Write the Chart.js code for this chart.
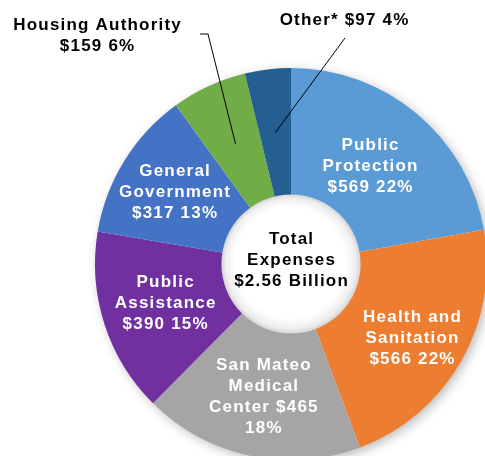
<!DOCTYPE html>
<html>
<head>
<meta charset="utf-8">
<script src="https://cdn.jsdelivr.net/npm/chart.js@4/dist/chart.umd.min.js"></script>
<style>
  html, body { margin: 0; padding: 0; background: #ffffff; overflow: hidden; width: 485px; height: 456px; }
  #wrap { position: absolute; left: 0; top: 0; width: 500px; height: 470px; }
</style>
</head>
<body>
<div id="wrap"><canvas id="c" width="500" height="470"></canvas></div>
<script>
const categories = ['Public Protection', 'Health and Sanitation', 'San Mateo Medical Center', 'Public Assistance', 'General Government', 'Housing Authority', 'Other*'];
const values = [569, 566, 465, 390, 317, 159, 97];
const percents = [22, 22, 18, 15, 13, 6, 4];
const colors = ['#5B9BD5', '#ED7D31', '#A5A5A5', '#7030A0', '#4472C4', '#70AD47', '#255E91'];
const centerLines = ['Total', 'Expenses', '$2.56 Billion'];

const money = i => '$' + values[i];
const pct = i => percents[i] + '%';
const labelLines = [
  ['Public', 'Protection', money(0) + ' ' + pct(0)],
  ['Health and', 'Sanitation', money(1) + ' ' + pct(1)],
  ['San Mateo', 'Medical', 'Center ' + money(2), pct(2)],
  ['Public', 'Assistance', money(3) + ' ' + pct(3)],
  ['General', 'Government', money(4) + ' ' + pct(4)],
  ['Housing Authority', money(5) + ' ' + pct(5)],
  ['Other* ' + money(6) + ' ' + pct(6)]
];

// styling: nudges for inside labels, outside label anchors
const nudges = [[-6, 4], [6, 9], [0, 3], [0, -1], [-4, -2]];
const outside = {
  5: { text: [97, 36], line: [[200, 34], [208, 34]] },
  6: { text: [344, 20], line: [[345, 38]] }
};

const FONT = 'bold 17px "Liberation Sans", Arial, sans-serif';
const LH = 21;

function drawLines(ctx, lines, x, y, color) {
  ctx.save();
  ctx.font = FONT;
  ctx.fillStyle = color;
  ctx.textAlign = 'center';
  ctx.textBaseline = 'middle';
  try { ctx.letterSpacing = '1.2px'; } catch (e) {}
  const top = y - (lines.length - 1) * LH / 2;
  lines.forEach((t, k) => ctx.fillText(t, x + 0.6, top + k * LH));
  ctx.restore();
}

const decor = {
  id: 'decor',
  beforeDatasetsDraw(chart) {
    const meta = chart.getDatasetMeta(0);
    const a = meta.data[0];
    const ctx = chart.ctx;
    ctx.save();
    ctx.shadowColor = 'rgba(0,0,0,0.3)';
    ctx.shadowBlur = 12;
    ctx.shadowOffsetX = 3;
    ctx.shadowOffsetY = 3;
    ctx.fillStyle = '#ffffff';
    ctx.beginPath();
    ctx.arc(a.x, a.y, a.outerRadius - 1, 0, Math.PI * 2);
    ctx.fill();
    ctx.restore();
  },
  afterDatasetsDraw(chart) {
    const meta = chart.getDatasetMeta(0);
    const ctx = chart.ctx;
    const a0 = meta.data[0];
    const cx = a0.x, cy = a0.y, ir = a0.innerRadius;
    // hole disk with soft rim
    ctx.save();
    const g = ctx.createRadialGradient(cx - 4, cy - 6, ir * 0.2, cx, cy, ir + 1);
    g.addColorStop(0, '#ffffff');
    g.addColorStop(0.75, '#ffffff');
    g.addColorStop(0.92, '#eeeeee');
    g.addColorStop(1, '#d4d4d4');
    ctx.fillStyle = g;
    ctx.beginPath();
    ctx.arc(cx, cy, ir + 1, 0, Math.PI * 2);
    ctx.fill();
    ctx.restore();
    drawLines(ctx, centerLines, cx, cy - 4, '#000000');

    meta.data.forEach((arc, i) => {
      const p = arc.tooltipPosition();
      if (outside[i]) {
        const o = outside[i];
        ctx.save();
        ctx.strokeStyle = '#000000';
        ctx.lineWidth = 1;
        ctx.beginPath();
        ctx.moveTo(o.line[0][0], o.line[0][1]);
        for (let k = 1; k < o.line.length; k++) ctx.lineTo(o.line[k][0], o.line[k][1]);
        ctx.lineTo(p.x, p.y);
        ctx.stroke();
        ctx.restore();
        drawLines(ctx, labelLines[i], o.text[0], o.text[1], '#000000');
      } else {
        const n = nudges[i] || [0, 0];
        drawLines(ctx, labelLines[i], p.x + n[0], p.y + n[1], '#ffffff');
      }
    });
  }
};

new Chart(document.getElementById('c'), {
  type: 'doughnut',
  data: {
    labels: categories,
    datasets: [{
      data: values,
      backgroundColor: colors,
      borderWidth: 0
    }]
  },
  options: {
    responsive: false,
    animation: false,
    devicePixelRatio: 1,
    cutout: '35%',
    layout: { padding: { left: 95, top: 68, right: 13, bottom: 10 } },
    plugins: { legend: { display: false }, tooltip: { enabled: false } }
  },
  plugins: [decor]
});
</script>
</body>
</html>
